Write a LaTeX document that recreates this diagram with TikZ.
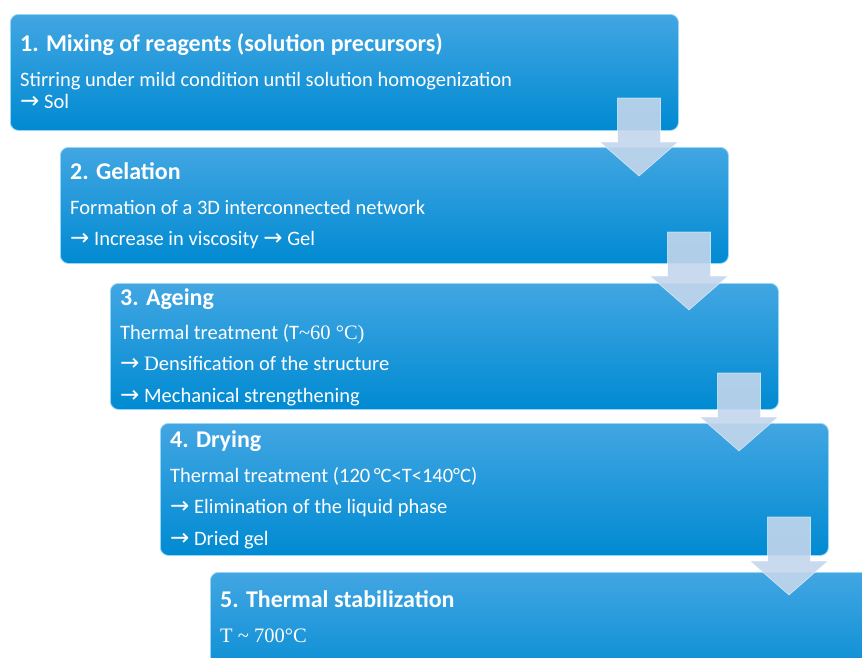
\documentclass[tikz,border=0pt]{standalone}
\usepackage{fontspec}
\setmainfont{Carlito}
\newfontfamily\tnr{Liberation Serif}
\newfontfamily\arrfont{DejaVu Sans}
\usetikzlibrary{positioning}
\definecolor{boxtop}{RGB}{66,166,226}
\definecolor{boxbot}{RGB}{0,138,210}
\definecolor{boxrim}{RGB}{150,215,245}
\definecolor{arrowfill}{RGB}{196,214,236}
\newcommand{\ra}{{\arrfont\fontsize{23}{24}\selectfont →}}
\tikzset{
  stepbox/.style={rounded corners=8pt, top color=boxtop, bottom color=boxbot,
    draw=boxrim, line width=0.8pt, inner sep=0pt, anchor=north west, minimum width=668pt},
  headtext/.style={anchor=base west, inner sep=0pt, text=white,
    font=\fontsize{24}{28}\selectfont\bfseries},
  bodytext/.style={anchor=base west, inner sep=0pt, text=white,
    font=\fontsize{20.5}{24}\selectfont},
  downarrow/.style={fill=arrowfill, fill opacity=0.9, draw=white, draw opacity=0.6, line width=0.6pt}
}
\begin{document}
\begin{tikzpicture}[x=1pt,y=-1pt]
  \clip (0,0) rectangle (862,657);
  % the five steps
  \foreach \i/\top/\h in {1/14/116,2/147/116,3/283/126,4/423/132,5/572/120} {
    \node[stepbox, minimum height=\h pt] (box\i) at (10+50*\i-50,\top) {};
  }
  % block arrows between the steps
  \foreach \i/\top in {1/98,2/232,3/373,4/517} {
    \coordinate (a\i) at (639+50*\i-50,\top);
    \draw[downarrow] ([xshift=-21.5pt]a\i) -- ++(43,0) -- ++(0,44) -- ++(17.5,0)
      -- ++(-39,34) -- ++(-39,-34) -- ++(17.5,0) -- cycle;
  }
  % texts
  \node[headtext] (h1) at (20,51) {1. Mixing of reagents (solution precursors)};
  \node[bodytext] (b1a) at (20,86) {Stirring under mild condition until solution homogenization};
  \node[bodytext] (b1b) at (20,108) {\ra\ Sol};
  \node[headtext] (h2) at (70,179) {2. Gelation};
  \node[bodytext] (b2a) at (70,214) {Formation of a 3D interconnected network};
  \node[bodytext] (b2b) at (70,245) {\ra\ Increase in viscosity \ra\ Gel};
  \node[headtext] (h3) at (120,305) {3. Ageing};
  \node[bodytext] (b3a) at (120,339) {Thermal treatment (T{\tnr\textasciitilde60 °C)}};
  \node[bodytext] (b3b) at (120,370) {\ra\ {\tnr D}ensification of the structure};
  \node[bodytext] (b3c) at (120,402) {\ra\ Mechanical strengthening};
  \node[headtext] (h4) at (170,447) {4. Drying};
  \node[bodytext] (b4a) at (170,482) {Thermal treatment (120\,°C<T<140°C)};
  \node[bodytext] (b4b) at (170,513) {\ra\ Elimination of the liquid phase};
  \node[bodytext] (b4c) at (170,545) {\ra\ Dried gel};
  \node[headtext] (h5) at (220,607) {5. Thermal stabilization};
  \node[bodytext] (b5a) at (220,642) {\tnr T \textasciitilde\ 700°C};
\end{tikzpicture}
\end{document}
